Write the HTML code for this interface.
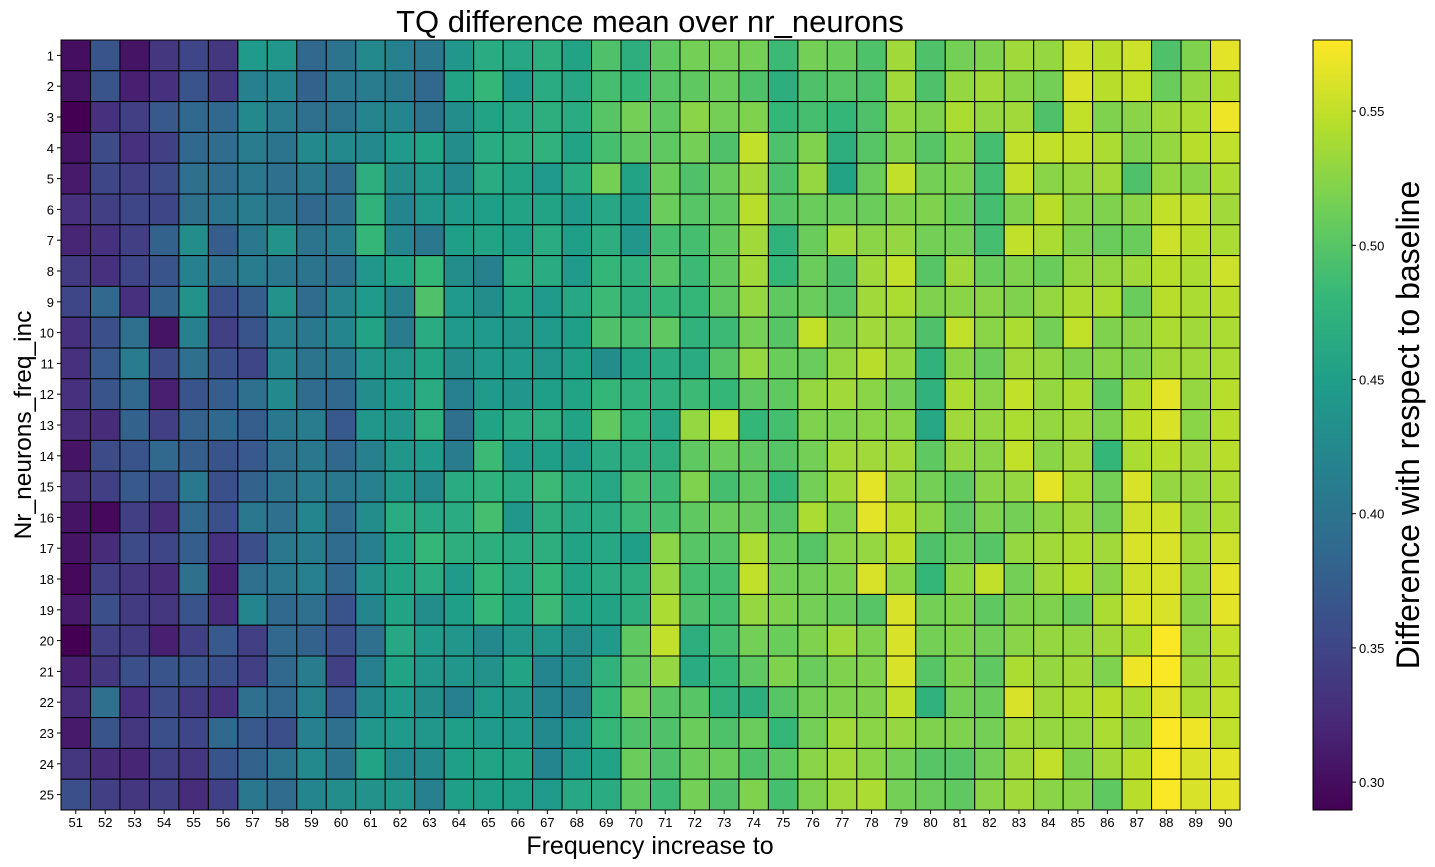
<!DOCTYPE html>
<html><head><meta charset="utf-8"><style>
body{margin:0;background:#fff;}
svg{display:block;font-family:"Liberation Sans","DejaVu Sans",sans-serif;}
</style></head><body>
<svg id="chart" width="1435" height="867" viewBox="0 0 1435 867" xmlns="http://www.w3.org/2000/svg">
<text x="650" y="32" font-size="31" text-anchor="middle">TQ difference mean over nr_neurons</text>
<text transform="translate(31,425) rotate(-90)" font-size="24.5" text-anchor="middle">Nr_neurons_freq_inc</text>
<text x="650" y="854" font-size="25" text-anchor="middle">Frequency increase to</text>
<g id="cells"></g>
<g id="xticks"></g>
<g id="yticks"></g>
<defs><linearGradient id="vgrad" x1="0" y1="1" x2="0" y2="0"></linearGradient></defs>
<rect x="1313" y="40" width="39" height="770" fill="url(#vgrad)" stroke="#000" stroke-width="1"/>
<g id="cticks"></g>
<text transform="translate(1419,425) rotate(-90)" font-size="32" text-anchor="middle">Difference with respect to baseline</text>
</svg>
<script>
const xCategories = [51,52,53,54,55,56,57,58,59,60,61,62,63,64,65,66,67,68,69,70,71,72,73,74,75,76,77,78,79,80,81,82,83,84,85,86,87,88,89,90];
const yCategories = [1,2,3,4,5,6,7,8,9,10,11,12,13,14,15,16,17,18,19,20,21,22,23,24,25];
const colorbarTicks = [0.30,0.35,0.40,0.45,0.50,0.55];
const colorMin = 0.2896, colorMax = 0.5765;
const row1=[0.30,0.365,0.305,0.335,0.35,0.335,0.445,0.44,0.385,0.40,0.425,0.415,0.405,0.44,0.465,0.46,0.47,0.455,0.495,0.47,0.505,0.515,0.515,0.515,0.485,0.515,0.51,0.495,0.535,0.495,0.515,0.52,0.535,0.53,0.555,0.545,0.555,0.495,0.52,0.565];
const row2=[0.305,0.365,0.315,0.33,0.365,0.335,0.415,0.42,0.38,0.405,0.41,0.405,0.385,0.455,0.48,0.445,0.465,0.46,0.49,0.48,0.5,0.505,0.51,0.495,0.47,0.495,0.5,0.495,0.535,0.495,0.53,0.535,0.525,0.515,0.56,0.545,0.55,0.51,0.53,0.545];
const row3=[0.29,0.33,0.345,0.37,0.385,0.385,0.425,0.41,0.395,0.4,0.42,0.42,0.4,0.43,0.455,0.46,0.47,0.465,0.5,0.515,0.505,0.525,0.515,0.52,0.48,0.49,0.48,0.495,0.53,0.52,0.54,0.53,0.535,0.495,0.55,0.52,0.525,0.535,0.54,0.57];
const row4=[0.305,0.355,0.33,0.345,0.385,0.39,0.41,0.4,0.425,0.425,0.425,0.445,0.455,0.43,0.465,0.47,0.475,0.455,0.49,0.505,0.505,0.515,0.495,0.55,0.495,0.52,0.47,0.5,0.52,0.5,0.525,0.49,0.55,0.55,0.55,0.54,0.52,0.53,0.545,0.55];
const row5=[0.31,0.35,0.345,0.355,0.395,0.39,0.405,0.395,0.405,0.39,0.47,0.43,0.44,0.425,0.465,0.455,0.445,0.465,0.515,0.455,0.51,0.495,0.51,0.535,0.495,0.53,0.455,0.51,0.55,0.515,0.52,0.49,0.55,0.525,0.53,0.535,0.495,0.53,0.525,0.54];
const row6=[0.33,0.345,0.35,0.35,0.395,0.4,0.41,0.4,0.385,0.395,0.475,0.42,0.44,0.445,0.45,0.455,0.455,0.445,0.46,0.445,0.51,0.5,0.505,0.545,0.5,0.51,0.51,0.51,0.52,0.52,0.51,0.49,0.52,0.545,0.525,0.52,0.525,0.55,0.55,0.535];
const row7=[0.32,0.33,0.345,0.38,0.43,0.375,0.405,0.435,0.4,0.41,0.48,0.42,0.405,0.45,0.455,0.45,0.465,0.45,0.47,0.44,0.49,0.49,0.505,0.535,0.475,0.51,0.535,0.525,0.53,0.515,0.515,0.49,0.55,0.54,0.52,0.51,0.51,0.555,0.545,0.54];
const row8=[0.34,0.33,0.35,0.365,0.415,0.395,0.41,0.405,0.4,0.395,0.44,0.455,0.48,0.43,0.415,0.465,0.465,0.445,0.48,0.475,0.5,0.485,0.505,0.535,0.48,0.51,0.495,0.535,0.55,0.5,0.535,0.51,0.52,0.51,0.53,0.53,0.535,0.545,0.54,0.555];
const row9=[0.35,0.385,0.33,0.38,0.435,0.36,0.375,0.435,0.39,0.42,0.445,0.415,0.495,0.445,0.43,0.455,0.445,0.46,0.485,0.47,0.48,0.48,0.505,0.53,0.505,0.51,0.5,0.535,0.54,0.52,0.525,0.525,0.52,0.53,0.54,0.54,0.51,0.545,0.54,0.545];
const row10=[0.33,0.36,0.395,0.305,0.415,0.345,0.365,0.415,0.405,0.42,0.455,0.41,0.465,0.445,0.445,0.44,0.445,0.45,0.495,0.49,0.505,0.475,0.485,0.515,0.5,0.55,0.52,0.535,0.53,0.495,0.55,0.525,0.54,0.515,0.55,0.52,0.525,0.54,0.535,0.54];
const row11=[0.33,0.37,0.41,0.355,0.395,0.36,0.35,0.42,0.4,0.405,0.44,0.44,0.455,0.43,0.445,0.445,0.44,0.45,0.43,0.455,0.465,0.465,0.5,0.53,0.51,0.51,0.53,0.545,0.53,0.475,0.525,0.51,0.535,0.53,0.52,0.525,0.52,0.535,0.535,0.54];
const row12=[0.33,0.365,0.385,0.315,0.365,0.375,0.395,0.425,0.39,0.385,0.43,0.445,0.465,0.415,0.445,0.44,0.45,0.455,0.48,0.475,0.475,0.485,0.48,0.505,0.505,0.53,0.535,0.525,0.515,0.475,0.54,0.525,0.55,0.53,0.54,0.505,0.54,0.565,0.53,0.545];
const row13=[0.325,0.325,0.38,0.345,0.38,0.385,0.375,0.405,0.41,0.37,0.44,0.44,0.47,0.395,0.455,0.465,0.47,0.455,0.505,0.48,0.46,0.53,0.55,0.48,0.49,0.52,0.52,0.525,0.525,0.46,0.535,0.53,0.54,0.53,0.535,0.52,0.545,0.56,0.525,0.545];
const row14=[0.305,0.355,0.365,0.385,0.375,0.365,0.37,0.395,0.405,0.385,0.415,0.44,0.445,0.41,0.485,0.445,0.45,0.445,0.465,0.47,0.47,0.505,0.51,0.505,0.5,0.515,0.535,0.535,0.535,0.505,0.53,0.525,0.55,0.525,0.535,0.48,0.54,0.545,0.535,0.545];
const row15=[0.325,0.345,0.37,0.36,0.405,0.36,0.38,0.4,0.41,0.405,0.415,0.44,0.425,0.465,0.475,0.465,0.485,0.465,0.46,0.49,0.485,0.52,0.49,0.505,0.48,0.515,0.535,0.565,0.53,0.515,0.505,0.525,0.53,0.565,0.54,0.515,0.56,0.53,0.53,0.54];
const row16=[0.305,0.295,0.345,0.325,0.385,0.36,0.405,0.395,0.42,0.39,0.43,0.465,0.46,0.465,0.49,0.44,0.47,0.46,0.465,0.485,0.49,0.505,0.51,0.51,0.5,0.54,0.52,0.565,0.545,0.525,0.505,0.52,0.515,0.525,0.535,0.515,0.555,0.555,0.53,0.54];
const row17=[0.305,0.325,0.355,0.35,0.375,0.33,0.36,0.405,0.41,0.39,0.415,0.455,0.48,0.47,0.47,0.465,0.47,0.455,0.46,0.45,0.525,0.5,0.5,0.54,0.51,0.5,0.525,0.53,0.545,0.495,0.51,0.5,0.53,0.535,0.54,0.535,0.56,0.56,0.535,0.555];
const row18=[0.295,0.345,0.335,0.325,0.395,0.315,0.395,0.405,0.415,0.385,0.435,0.455,0.465,0.445,0.48,0.46,0.48,0.455,0.465,0.47,0.53,0.49,0.49,0.55,0.515,0.515,0.52,0.56,0.525,0.48,0.525,0.55,0.515,0.535,0.545,0.525,0.555,0.56,0.53,0.565];
const row19=[0.31,0.36,0.34,0.335,0.365,0.325,0.42,0.385,0.395,0.365,0.42,0.455,0.43,0.45,0.48,0.455,0.485,0.455,0.455,0.47,0.54,0.495,0.49,0.53,0.52,0.515,0.51,0.5,0.56,0.515,0.52,0.505,0.52,0.52,0.51,0.54,0.56,0.56,0.525,0.565];
const row20=[0.29,0.345,0.34,0.315,0.345,0.37,0.345,0.385,0.38,0.36,0.395,0.46,0.445,0.44,0.425,0.44,0.44,0.43,0.445,0.505,0.55,0.47,0.49,0.515,0.51,0.52,0.535,0.52,0.56,0.515,0.52,0.515,0.525,0.53,0.53,0.535,0.54,0.575,0.53,0.55];
const row21=[0.315,0.335,0.36,0.365,0.365,0.36,0.345,0.385,0.41,0.345,0.415,0.455,0.44,0.44,0.435,0.455,0.42,0.43,0.475,0.505,0.53,0.465,0.48,0.505,0.52,0.51,0.52,0.52,0.56,0.5,0.52,0.505,0.54,0.53,0.535,0.52,0.57,0.575,0.535,0.545];
const row22=[0.325,0.395,0.33,0.355,0.34,0.33,0.395,0.385,0.415,0.37,0.425,0.445,0.43,0.415,0.445,0.44,0.42,0.415,0.48,0.515,0.5,0.5,0.475,0.47,0.5,0.515,0.52,0.52,0.55,0.475,0.515,0.51,0.56,0.535,0.54,0.545,0.54,0.565,0.54,0.55];
const row23=[0.31,0.365,0.335,0.36,0.35,0.385,0.37,0.36,0.415,0.395,0.44,0.445,0.44,0.45,0.445,0.445,0.425,0.44,0.48,0.495,0.495,0.51,0.495,0.51,0.48,0.515,0.535,0.525,0.53,0.52,0.52,0.515,0.535,0.53,0.53,0.54,0.53,0.575,0.57,0.55];
const row24=[0.335,0.325,0.32,0.345,0.335,0.365,0.38,0.4,0.425,0.4,0.455,0.425,0.425,0.45,0.455,0.455,0.42,0.445,0.455,0.51,0.495,0.51,0.51,0.495,0.505,0.525,0.535,0.525,0.515,0.5,0.5,0.515,0.535,0.55,0.52,0.535,0.545,0.575,0.56,0.565];
const row25=[0.36,0.345,0.335,0.345,0.325,0.345,0.405,0.39,0.42,0.43,0.435,0.44,0.415,0.45,0.45,0.45,0.445,0.46,0.465,0.505,0.485,0.515,0.495,0.52,0.49,0.52,0.535,0.54,0.515,0.51,0.505,0.525,0.535,0.525,0.525,0.505,0.545,0.575,0.56,0.565];
const values=[row1,row2,row3,row4,row5,row6,row7,row8,row9,row10,row11,row12,row13,row14,row15,row16,row17,row18,row19,row20,row21,row22,row23,row24,row25];

const NS="http://www.w3.org/2000/svg";
const plotL=61, plotR=1240, plotT=40, plotB=810;
const cw=(plotR-plotL)/xCategories.length, ch=(plotB-plotT)/yCategories.length;
function xScale(i){return plotL+i*cw;}
function yScale(j){return plotT+j*ch;}
function cScale(v){return plotB-(v-colorMin)/(colorMax-colorMin)*(plotB-plotT);}
const vir=[[68,1,84],[72,40,120],[62,73,137],[49,104,142],[38,130,142],[31,158,137],[53,183,121],[110,206,88],[181,222,43],[253,231,37]];
function viridis(t){t=Math.max(0,Math.min(1,t));const p=t*(vir.length-1);const i=Math.min(Math.floor(p),vir.length-2);const f=p-i;
 const c=vir[i].map((a,k)=>Math.round(a+(vir[i+1][k]-a)*f));return `rgb(${c[0]},${c[1]},${c[2]})`;}
function mk(tag,attrs,parent){const e=document.createElementNS(NS,tag);for(const k in attrs)e.setAttribute(k,attrs[k]);parent.appendChild(e);return e;}
const cells=document.getElementById('cells');
values.forEach((row,j)=>row.forEach((v,i)=>{
 const r=mk('rect',{x:xScale(i),y:yScale(j),width:cw,height:ch,fill:viridis((v-colorMin)/(colorMax-colorMin)),stroke:'#000','stroke-width':1},cells);
 
 
}));
const xt=document.getElementById('xticks');
xCategories.forEach((c,i)=>{
 mk('line',{x1:xScale(i)+cw/2,x2:xScale(i)+cw/2,y1:plotB,y2:plotB+4,stroke:'#000'},xt);
 const t=mk('text',{x:xScale(i)+cw/2,y:plotB+17,'font-size':13,'text-anchor':'middle'},xt);t.textContent=c;
 
 
});
const yt=document.getElementById('yticks');
yCategories.forEach((c,j)=>{
 mk('line',{x1:plotL-4,x2:plotL,y1:yScale(j)+ch/2,y2:yScale(j)+ch/2,stroke:'#000'},yt);
 const t=mk('text',{x:plotL-7,y:yScale(j)+ch/2+5,'font-size':13,'text-anchor':'end'},yt);t.textContent=c;
 
 
});
const g=document.getElementById('vgrad');
for(let k=0;k<vir.length;k++){mk('stop',{offset:(k/(vir.length-1)*100)+'%','stop-color':`rgb(${vir[k].join(',')})`},g);}
const ct=document.getElementById('cticks');
colorbarTicks.forEach(v=>{
 const y=cScale(v);
 mk('line',{x1:1352,x2:1356,y1:y,y2:y,stroke:'#000'},ct);
 const t=mk('text',{x:1359,y:y+5,'font-size':13},ct);t.textContent=v.toFixed(2);
 
 
});
</script>
</body></html>
